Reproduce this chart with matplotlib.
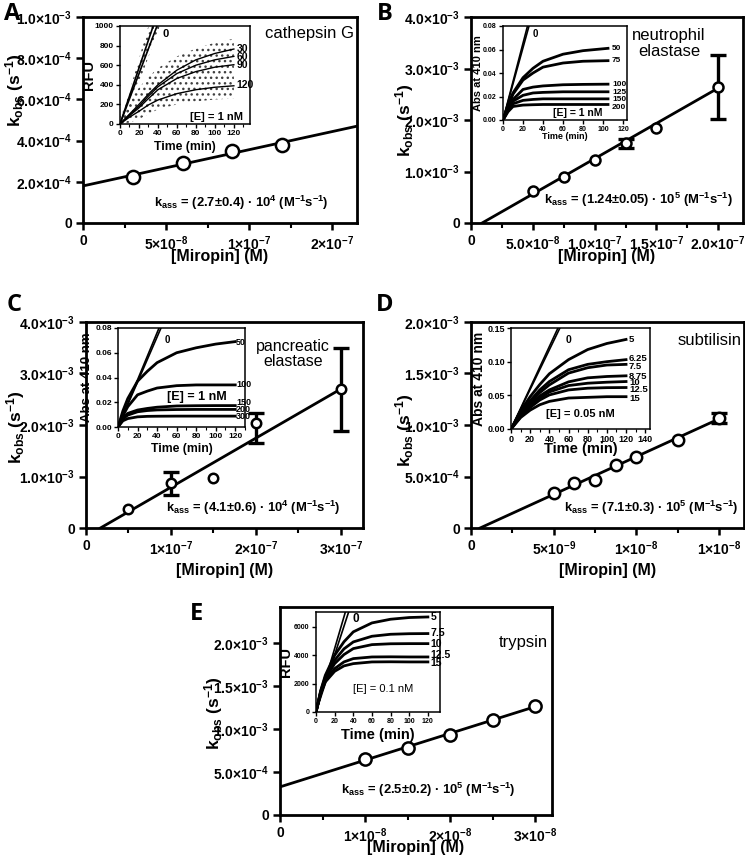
import numpy as np
import matplotlib
matplotlib.use('Agg')
import matplotlib.pyplot as plt

plt.rcParams['font.family'] = ['Liberation Sans', 'DejaVu Sans']
plt.rcParams['font.weight'] = 'bold'
plt.rcParams['axes.labelweight'] = 'bold'
plt.rcParams['mathtext.fontset'] = 'custom'
plt.rcParams['mathtext.rm'] = 'Liberation Sans:bold'
plt.rcParams['mathtext.it'] = 'Liberation Sans:bold'
plt.rcParams['mathtext.bf'] = 'Liberation Sans:bold'
plt.rcParams['hatch.linewidth'] = 1.0

# ---------------- main panels: k_obs vs [Miropin]
a_conc = [3.0e-8, 6.0e-8, 9.0e-8, 1.2e-7]
a_kobs = [2.22e-4, 2.92e-4, 3.50e-4, 3.78e-4]
a_fit = [1.80e-4, 1758.0]          # intercept, slope

b_conc = [5e-8, 7.5e-8, 1e-7, 1.25e-7, 1.5e-7, 2e-7]
b_kobs = [0.63e-3, 0.90e-3, 1.22e-3, 1.55e-3, 1.84e-3, 2.64e-3]
b_err = [0, 0, 0, 0.09e-3, 0, 0.62e-3]
b_fit = [-1.23e-4, 13720.0]

c_conc = [5e-8, 1e-7, 1.5e-7, 2e-7, 3e-7]
c_kobs = [0.37e-3, 0.87e-3, 0.98e-3, 2.03e-3, 2.69e-3]
c_err_lo = [0, 0.225e-3, 0, 0.385e-3, 0.80e-3]
c_err_hi = [0, 0.225e-3, 0, 0.21e-3, 0.81e-3]
c_fit = [-1.62e-4, 9540.0]

d_conc = [5e-9, 6.25e-9, 7.5e-9, 8.75e-9, 1e-8, 1.25e-8, 1.5e-8]
d_kobs = [0.339e-3, 0.435e-3, 0.47e-3, 0.61e-3, 0.687e-3, 0.85e-3, 1.07e-3]
d_err = [0, 0, 0, 0, 0, 0, 0.05e-3]
d_fit = [-4.03e-5, 73360.0]

e_conc = [1e-8, 1.5e-8, 2e-8, 2.5e-8, 3e-8]
e_kobs = [0.655e-3, 0.78e-3, 0.93e-3, 1.11e-3, 1.27e-3]
e_fit = [3.27e-4, 31100.0]

# tick labels
a_xlabels = ['0', '5×10$^{-8}$', '1×10$^{-7}$', '2×10$^{-7}$']
a_ylabels = ['0', '2.0×10$^{-4}$', '4.0×10$^{-4}$', '6.0×10$^{-4}$', '8.0×10$^{-4}$', '1.0×10$^{-3}$']
b_xlabels = ['0', '5.0×10$^{-8}$', '1.0×10$^{-7}$', '1.5×10$^{-7}$', '2.0×10$^{-7}$']
bc_ylabels = ['0', '1.0×10$^{-3}$', '2.0×10$^{-3}$', '3.0×10$^{-3}$', '4.0×10$^{-3}$']
c_xlabels = ['0', '1×10$^{-7}$', '2×10$^{-7}$', '3×10$^{-7}$']
d_xlabels = ['0', '5×10$^{-9}$', '1×10$^{-8}$', '1×10$^{-8}$']
de_ylabels = ['0', '5.0×10$^{-4}$', '1.0×10$^{-3}$', '1.5×10$^{-3}$', '2.0×10$^{-3}$']
e_xlabels = ['0', '1×10$^{-8}$', '2×10$^{-8}$', '3×10$^{-8}$']

# ---------------- insets: progress curves
a_t = [0, 10, 20, 30, 40, 60, 80, 100, 120]
a_30 = [0, 100, 200, 305, 400, 550, 655, 720, 765]
a_60 = [0, 95, 180, 285, 380, 515, 600, 655, 690]
a_90 = [0, 85, 165, 260, 350, 465, 535, 580, 605]
a_120 = [0, 70, 130, 195, 245, 310, 350, 375, 390]
a_names = ['30', '60', '90', '120']
a_cloud_hi = [80, 240, 370, 480, 570, 690, 770, 830, 870]
a_cloud_lo = [0, 15, 50, 100, 150, 200, 230, 250, 260]

b_t = [0, 5, 10, 20, 30, 40, 60, 80, 105]
b_50 = [0, 0.013, 0.023, 0.036, 0.044, 0.050, 0.056, 0.059, 0.061]
b_75 = [0, 0.012, 0.022, 0.034, 0.040, 0.045, 0.0485, 0.050, 0.0505]
b_100 = [0, 0.010, 0.0175, 0.026, 0.028, 0.029, 0.030, 0.0303, 0.0305]
b_125 = [0, 0.009, 0.016, 0.021, 0.023, 0.0235, 0.024, 0.024, 0.024]
b_150 = [0, 0.008, 0.0138, 0.0167, 0.0175, 0.018, 0.018, 0.018, 0.018]
b_200 = [0, 0.007, 0.0115, 0.0127, 0.013, 0.0132, 0.0132, 0.0132, 0.0132]
b_names = ['50', '75', '100', '125', '150', '200']

c_t = [0, 5, 10, 20, 30, 40, 60, 80, 100, 120]
c_50 = [0, 0.013, 0.023, 0.037, 0.045, 0.052, 0.060, 0.064, 0.067, 0.069]
c_100 = [0, 0.009, 0.0164, 0.026, 0.029, 0.0315, 0.0334, 0.034, 0.034, 0.034]
c_150 = [0, 0.007, 0.011, 0.0137, 0.015, 0.016, 0.017, 0.0172, 0.0173, 0.0173]
c_200 = [0, 0.0065, 0.0096, 0.0123, 0.0133, 0.0138, 0.0141, 0.0142, 0.0142, 0.0142]
c_300 = [0, 0.005, 0.0068, 0.0082, 0.0086, 0.0087, 0.0088, 0.0088, 0.0088, 0.0088]
c_names = ['50', '100', '150', '200', '300']

d_t = [0, 10, 20, 30, 40, 60, 80, 100, 120]
d_5 = [0, 0.027, 0.048, 0.066, 0.082, 0.103, 0.118, 0.127, 0.133]
d_625 = [0, 0.023, 0.042, 0.058, 0.0705, 0.088, 0.096, 0.100, 0.103]
d_75 = [0, 0.022, 0.040, 0.054, 0.0655, 0.083, 0.091, 0.095, 0.096]
d_875 = [0, 0.021, 0.037, 0.049, 0.058, 0.070, 0.076, 0.078, 0.079]
d_10 = [0, 0.020, 0.035, 0.046, 0.055, 0.0645, 0.068, 0.0695, 0.0705]
d_125 = [0, 0.018, 0.032, 0.043, 0.0506, 0.058, 0.0606, 0.0614, 0.0616]
d_15 = [0, 0.017, 0.028, 0.036, 0.041, 0.046, 0.047, 0.048, 0.048]
d_names = ['5', '6.25', '7.5', '8.75', '10', '12.5', '15']

e_t = [0, 5, 10, 20, 30, 40, 60, 80, 100, 120]
e_5 = [0, 1500, 2590, 4000, 4950, 5650, 6280, 6540, 6660, 6700]
e_75 = [0, 1450, 2470, 3650, 4450, 4940, 5340, 5480, 5520, 5530]
e_10 = [0, 1400, 2350, 3410, 4050, 4470, 4750, 4810, 4820, 4820]
e_125 = [0, 1350, 2235, 3060, 3530, 3765, 3880, 3890, 3880, 3880]
e_15 = [0, 1300, 2120, 2870, 3250, 3410, 3530, 3540, 3530, 3530]
e_names = ['5', '7.5', '10', '12.5', '15']

W, H = 745, 864
fig = plt.figure(figsize=(W / 100, H / 100), dpi=100)


def rect(l, t, r, b):
    return [l / W, 1 - b / H, (r - l) / W, (b - t) / H]


def main_panel(box, conc, kobs, fit, span, xlim, ylim, xticks, xlabels, xminor,
               yticks, ylabels, ms, ylab_pos, xlab_y, err=None):
    ax = fig.add_axes(box)
    x = np.array(span)
    ax.plot(x, fit[0] + fit[1] * x, color='black', lw=2, zorder=2)
    if err is not None:
        lo, hi = np.array(err[0]), np.array(err[1])
        m = (lo + hi) > 0
        ax.errorbar(np.array(conc)[m], np.array(kobs)[m], yerr=[lo[m], hi[m]], fmt='none',
                    ecolor='black', elinewidth=2.4, capsize=6, capthick=2.4, zorder=3)
    ax.plot(conc, kobs, 'o', ms=ms, mfc='white', mec='black', mew=1.8, zorder=4)
    ax.set_xlim(xlim)
    ax.set_ylim(ylim)
    ax.set_xticks(xticks)
    ax.set_xticklabels(xlabels)
    ax.set_xticks(xminor, minor=True)
    ax.set_yticks(yticks)
    ax.set_yticklabels(ylabels)
    for s in ax.spines.values():
        s.set_linewidth(2)
    ax.tick_params(which='major', length=5, width=1.8, labelsize=10, pad=3)
    ax.tick_params(which='minor', length=3.5, width=1.5)
    ax.set_xlabel('[Miropin] (M)', fontsize=11.5)
    ax.set_ylabel(r'k$_{\rm obs}$ (s$^{-1}$)', fontsize=12.5)
    ax.xaxis.label.set_va('center')
    ax.yaxis.label.set_va('center')
    ax.xaxis.set_label_coords(0.5, xlab_y)
    ax.yaxis.set_label_coords(ylab_pos[0], ylab_pos[1])
    return ax


def inset(box, t, curves, names, zero, xlim, xticks, ylim, yticks, yticklabels,
          ylabel, fs_tick, fs_lab, fs_x, lab_x, lab_y, fs_name, ylab_x, xlab_y, lw=2.0):
    ax = fig.add_axes(box)
    for zt, zy in zero:
        ax.plot(zt, zy, color='black', lw=1.2, zorder=3)
    for y, name, ly in zip(curves, names, lab_y):
        ax.plot(t, y, color='black', lw=lw, zorder=3)
        ax.text(lab_x, ly, name, fontsize=fs_name, va='center', ha='left', clip_on=False)
    ax.set_xlim(xlim)
    ax.set_ylim(ylim)
    ax.set_xticks(xticks)
    ax.set_yticks(yticks)
    ax.set_yticklabels(yticklabels)
    for s in ax.spines.values():
        s.set_linewidth(1.1)
    ax.tick_params(which='major', length=3, width=1, labelsize=fs_tick, pad=1.5)
    ax.tick_params(which='minor', length=1.8, width=0.8)
    ax.set_xlabel('Time (min)', fontsize=fs_x)
    ax.set_ylabel(ylabel, fontsize=fs_lab)
    ax.xaxis.label.set_va('center')
    ax.yaxis.label.set_va('center')
    ax.xaxis.set_label_coords(0.5, xlab_y)
    ax.yaxis.set_label_coords(ylab_x, 0.5)
    return ax


kass_fs = 9.4

# ---------------- A
ax = main_panel(rect(83, 17, 357, 223), a_conc, a_kobs, a_fit, [0, 1.65e-7],
                (0, 1.65e-7), (0, 1e-3), [0, 5e-8, 1e-7, 1.5e-7], a_xlabels,
                [2.5e-8, 7.5e-8, 1.25e-7], np.arange(6) * 2e-4, a_ylabels,
                9.5, (-0.248, 0.645), -0.165)
ax.text(0.99, 0.92, 'cathepsin G', transform=ax.transAxes, ha='right', va='center',
        fontsize=12, fontweight='normal')
ax.text(0.577, 0.10, r'k$_{\rm ass}$ = (2.7±0.4) · 10$^{4}$ (M$^{-1}$s$^{-1}$)',
        transform=ax.transAxes, ha='center', va='center', fontsize=kass_fs)

ia = inset(rect(120, 26, 250, 124), a_t, [a_30, a_60, a_90, a_120], a_names,
           [([0, 35], [0, 1000]), ([0, 39], [0, 1000])],
           (0, 137), np.arange(0, 121, 20), (0, 1000), np.arange(0, 1001, 200),
           ['0', '200', '400', '600', '800', '1000'], 'RFU', 6, 10.5, 8.8,
           123, [765, 688, 600, 395], 7.5, -0.235, -0.235, lw=1.0)
ia.fill_between(a_t, a_cloud_lo, a_cloud_hi, hatch='...', facecolor='none',
                edgecolor='0.25', lw=0, zorder=1)
ia.fill_betweenx([0, 1000], [0, 30], [4, 42], hatch='...', facecolor='none',
                 edgecolor='0.25', lw=0, zorder=1)
ia.set_xticks(np.arange(10, 131, 20), minor=True)
ia.text(45, 915, '0', fontsize=8, va='center')
ia.text(0.95, 0.07, '[E] = 1 nM', transform=ia.transAxes, ha='right', va='center', fontsize=8)

# ---------------- B
ax = main_panel(rect(471, 17, 743, 223), b_conc, b_kobs, b_fit, [0.9e-8, 2e-7],
                (0, 2.2e-7), (0, 4e-3), [0, 5e-8, 1e-7, 1.5e-7, 2e-7], b_xlabels,
                [2.5e-8, 7.5e-8, 1.25e-7, 1.75e-7], np.arange(5) * 1e-3, bc_ylabels,
                7.2, (-0.246, 0.5), -0.165, err=(b_err, b_err))
ax.text(0.728, 0.87, 'neutrophil\nelastase', transform=ax.transAxes, ha='center',
        va='center', fontsize=12, fontweight='normal', linespacing=1.05)
ax.text(0.614, 0.11, r'k$_{\rm ass}$ = (1.24±0.05) · 10$^{5}$ (M$^{-1}$s$^{-1}$)',
        transform=ax.transAxes, ha='center', va='center', fontsize=kass_fs)

ib = inset(rect(503, 26, 627, 120), b_t, [b_50, b_75, b_100, b_125, b_150, b_200], b_names,
           [([0, 24.5], [0, 0.08]), ([0, 26], [0, 0.08])],
           (0, 124), np.arange(0, 121, 20), (0, 0.08), np.arange(0, 0.081, 0.02),
           ['0.00', '0.02', '0.04', '0.06', '0.08'], 'Abs at 410 nm', 5, 8, 6.5,
           109, [0.0607, 0.0506, 0.0302, 0.0238, 0.0173, 0.0110], 6, -0.2, -0.18)
ib.text(30, 0.073, '0', fontsize=7, va='center')
ib.text(0.60, 0.07, '[E] = 1 nM', transform=ib.transAxes, ha='center', va='center', fontsize=7.5)

# ---------------- C
ax = main_panel(rect(86, 322, 363, 528), c_conc, c_kobs, c_fit, [1.7e-8, 3e-7],
                (0, 3.26e-7), (0, 4e-3), [0, 1e-7, 2e-7, 3e-7], c_xlabels,
                [5e-8, 1.5e-7, 2.5e-7], np.arange(5) * 1e-3, bc_ylabels,
                6.8, (-0.256, 0.49), -0.204, err=(c_err_lo, c_err_hi))
ax.text(0.747, 0.845, 'pancreatic\nelastase', transform=ax.transAxes, ha='center',
        va='center', fontsize=11.5, fontweight='normal', linespacing=1.05)
ax.text(0.603, 0.097, r'k$_{\rm ass}$ = (4.1±0.6) · 10$^{4}$ (M$^{-1}$s$^{-1}$)',
        transform=ax.transAxes, ha='center', va='center', fontsize=kass_fs)

ic = inset(rect(118, 328, 245, 427), c_t, [c_50, c_100, c_150, c_200, c_300], c_names,
           [([0, 42], [0, 0.08]), ([0, 44], [0, 0.08])],
           (0, 130), np.arange(0, 121, 20), (0, 0.08), np.arange(0, 0.081, 0.02),
           ['0.00', '0.02', '0.04', '0.06', '0.08'], 'Abs at 410 nm', 6, 9.5, 8.8,
           121, [0.0685, 0.034, 0.0197, 0.0143, 0.0086], 6.5, -0.245, -0.222)
ic.set_xticks(np.arange(10, 131, 20), minor=True)
ic.text(48, 0.070, '0', fontsize=7, va='center')
ic.text(0.62, 0.30, '[E] = 1 nM', transform=ic.transAxes, ha='center', va='center', fontsize=9)

# ---------------- D
ax = main_panel(rect(471, 322, 744, 528), d_conc, d_kobs, d_fit, [0.55e-9, 1.5e-8],
                (0, 1.65e-8), (0, 2e-3), [0, 5e-9, 1e-8, 1.5e-8], d_xlabels,
                [2.5e-9, 7.5e-9, 1.25e-8], np.arange(5) * 5e-4, de_ylabels,
                8.2, (-0.245, 0.476), -0.204, err=(d_err, d_err))
ax.text(0.99, 0.91, 'subtilisin', transform=ax.transAxes, ha='right', va='center',
        fontsize=12, fontweight='normal')
ax.text(0.659, 0.097, r'k$_{\rm ass}$ = (7.1±0.3) · 10$^{5}$ (M$^{-1}$s$^{-1}$)',
        transform=ax.transAxes, ha='center', va='center', fontsize=kass_fs)

idd = inset(rect(511, 328, 650, 429), d_t, [d_5, d_625, d_75, d_875, d_10, d_125, d_15], d_names,
            [([0, 49], [0, 0.15]), ([0, 51], [0, 0.15])],
            (0, 145), np.arange(0, 141, 20), (0, 0.15), np.arange(0, 0.151, 0.05),
            ['0.00', '0.05', '0.10', '0.15'], 'Abs at 410 nm', 6.5, 10, 10.5,
            123, [0.133, 0.1045, 0.0935, 0.0785, 0.0685, 0.058, 0.045], 6.8, -0.23, -0.198)
idd.set_xticks(np.arange(10, 141, 20), minor=True)
idd.text(57, 0.1326, '0', fontsize=7.5, va='center')
idd.text(0.50, 0.15, '[E] = 0.05 nM', transform=idd.transAxes, ha='center', va='center', fontsize=8)

# ---------------- E
ax = main_panel(rect(280, 607, 552, 815), e_conc, e_kobs, e_fit, [0, 3e-8],
                (0, 3.2e-8), (0, 2.42e-3), [0, 1e-8, 2e-8, 3e-8], e_xlabels,
                [5e-9, 1.5e-8, 2.5e-8], np.arange(5) * 5e-4, de_ylabels,
                8.8, (-0.246, 0.49), -0.158)
ax.text(0.985, 0.83, 'trypsin', transform=ax.transAxes, ha='right', va='center',
        fontsize=12, fontweight='normal')
ax.text(0.544, 0.12, r'k$_{\rm ass}$ = (2.5±0.2) · 10$^{5}$ (M$^{-1}$s$^{-1}$)',
        transform=ax.transAxes, ha='center', va='center', fontsize=kass_fs)

ie = inset(rect(316, 612, 440, 712), e_t, [e_5, e_75, e_10, e_125, e_15], e_names,
           [([0, 31.5], [0, 7050]), ([0, 35], [0, 7050])],
           (0, 133), np.arange(0, 121, 20), (0, 7050), np.arange(0, 6001, 2000),
           ['0', '2000', '4000', '6000'], 'RFU', 5, 10.5, 10.5,
           123, [6700, 5560, 4780, 3990, 3470], 7.5, -0.245, -0.23)
ie.text(39, 6590, '0', fontsize=8.5, va='center')
ie.text(0.54, 0.23, '[E] = 0.1 nM', transform=ie.transAxes, ha='center', va='center',
        fontsize=8, fontweight='normal')

# panel letters
for letter, (px, py) in zip('ABCDE', [(12, 14), (385, 14), (14, 305), (385, 305), (197, 614)]):
    fig.text(px / W, 1 - py / H, letter, fontsize=17, fontweight='bold', ha='center', va='center',
             family=['Open Sans', 'Liberation Sans'])

fig.savefig('out.png', dpi=100)
